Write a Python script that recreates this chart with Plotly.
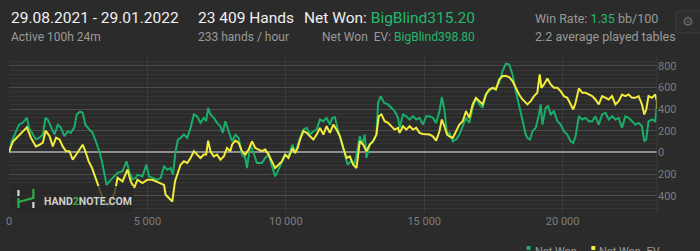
import plotly.graph_objects as go

# ---------------- data ----------------
won_hands = [0, 25, 83, 205, 360, 504, 647, 719, 863, 971, 1104, 1223, 1320, 1403, 1511, 1644, 1763, 1870,
             2004, 2122, 2230, 2363, 2446, 2565, 2662, 2759, 2903, 3021, 3140, 3262, 3356, 3442, 3525, 3622,
             3741, 3921, 4101, 4244, 4342, 4460, 4579, 4640, 4820, 4964, 5061, 5180, 5360, 5478, 5600, 5719,
             5838, 5924, 6018, 6104, 6198, 6320, 6439, 6557, 6680, 6798, 6917, 7039, 7122, 7194, 7277, 7399,
             7518, 7636, 7723, 7816, 7939, 8057, 8176, 8298, 8417, 8536, 8597, 8716, 8838, 8957, 9136, 9255,
             9377, 9496, 9615, 9737, 9856, 9975, 10097, 10241, 10334, 10431, 10514, 10636, 10755, 10874,
             10996, 11115, 11233, 11356, 11474, 11593, 11680, 11773, 11895, 12014, 12133, 12230, 12348,
             12471, 12554, 12672, 12759, 12852, 12913, 13032, 13154, 13273, 13334, 13428, 13550, 13694,
             13812, 13931, 14053, 14111, 14233, 14352, 14471, 14593, 14712, 14831, 14953, 15072, 15190,
             15313, 15431, 15550, 15636, 15730, 15827, 15910, 16032, 16151, 16270, 16392, 16511, 16629,
             16751, 16870, 16989, 17111, 17230, 17348, 17471, 17589, 17708, 17830, 17949, 18068, 18190,
             18309, 18427, 18550, 18668, 18730, 18823, 18909, 19028, 19147, 19208, 19269, 19388, 19471,
             19568, 19687, 19809, 19928, 20046, 20169, 20287, 20384, 20467, 20586, 20708, 20827, 20946,
             21068, 21187, 21305, 21428, 21546, 21665, 21787, 21906, 22025, 22147, 22266, 22384, 22507,
             22625, 22744, 22866, 22949, 23021, 23103, 23226, 23345, 23406, 23409]
won_values = [0, 0, 90, 160, 255, 275, 320, 230, 165, 118, 135, 165, 320, 300, 240, 165, 255, 230,
              150, 195, 180, 230, 350, 375, 365, 255, 210, 180, 100, 10, -83, -206, -300, -270,
              -235, -190, -175, -83, -175, -250, -235, -206, -222, -114, -222, -237, -253, -237, -130, -160,
              -145, -206, 10, 118, 133, 165, 133, 226, 350, 333, 272, 318, 287, 411, 350, 318,
              272, 241, 180, 287, 195, 102, 164, 133, -21, -52, -145, 71, -6, -98, -98, -52,
              -21, -114, -222, -160, -83, -21, -37, 71, -6, 71, 133, 210, 226, 164,
              195, 210, 303, 287, 318, 256, 318, 325, 195, 102, -21, -114, -83,
              -114, -21, 148, 71, 164, -52, 71, 102, 164, 457, 519, 457, 442,
              411, 380, 318, 226, 350, 333, 303, 333, 303, 318, 256, 333, 333,
              318, 272, 380, 510, 395, 164, 180, 102, 118, 164, 241, 318, 272,
              411, 503, 442, 411, 534, 565, 596, 596, 642, 750, 818, 812, 719,
              565, 442, 303, 164, 133, 118, 195, 226, 350, 442, 256, 411, 426,
              350, 380, 287, 256, 195, 164, 102, 87, 148, 333, 303, 318, 287,
              287, 333, 256, 350, 365, 303, 333, 303, 318, 226, 333, 318, 287,
              256, 272, 241, 102, 118, 287, 303, 287, 442, 315]

ev_hands = [0, 25, 144, 324, 504, 647, 791, 971, 1104, 1223, 1320, 1464, 1583, 1701, 1824, 1942, 2061,
            2183, 2302, 2421, 2543, 2662, 2759, 2878, 2996, 3083, 3165, 3262, 3381, 3489, 3597, 3741,
            3813, 3921, 4101, 4280, 4399, 4521, 4640, 4820, 5000, 5180, 5421, 5600, 5658, 5780, 5899,
            5996, 6079, 6198, 6320, 6439, 6557, 6680, 6798, 6917, 7039, 7122, 7194, 7277, 7399, 7518,
            7636, 7759, 7877, 7996, 8057, 8176, 8298, 8417, 8536, 8658, 8777, 8895, 9018, 9136, 9255,
            9377, 9496, 9615, 9737, 9856, 9975, 10097, 10241, 10334, 10431, 10514, 10636, 10755, 10874,
            10996, 11115, 11233, 11356, 11474, 11593, 11716, 11834, 11953, 12075, 12194, 12312, 12435,
            12554, 12672, 12795, 12913, 13032, 13154, 13273, 13356, 13453, 13572, 13694, 13812, 13931,
            14053, 14111, 14233, 14352, 14471, 14593, 14712, 14831, 14953, 15072, 15190, 15313, 15431,
            15550, 15636, 15730, 15827, 15910, 16032, 16151, 16270, 16392, 16511, 16629, 16751, 16870,
            16989, 17111, 17230, 17348, 17471, 17589, 17708, 17830, 17949, 18068, 18190, 18309, 18427,
            18550, 18730, 18847, 18966, 19086, 19172, 19233, 19327, 19449, 19568, 19687, 19809, 19928,
            20046, 20169, 20287, 20384, 20467, 20586, 20708, 20827, 20946, 21068, 21187, 21305, 21428,
            21546, 21665, 21787, 21906, 22025, 22147, 22266, 22384, 22507, 22625, 22744, 22866, 22949,
            23021, 23103, 23226, 23345, 23406, 23409]
ev_values = [0, 25, 100, 150, 195, 230, 135, 55, 70, 90, 200, 150, 55, 135, 118, 55, 10,
             10, -68, -21, 25, 70, 10, -83, -142, -206, -268, -327, -420, -470, -485, -420,
             -380, -235, -268, -160, -268, -327, -253, -283, -253, -253, -283, -300, -392, -422, -454,
             -268, -206, -114, -83, -98, -52, 10, -21, -52, -21, -21, 108, 10, -37, -21,
             -68, -37, 40, 10, 71, 108, 87, 10, -21, 25, 102, 40, 25, 10, 25,
             -21, -83, -145, -114, -83, -21, -52, 40, -6, 40, 118, 195, 180, 148,
             118, 164, 226, 164, 241, 180, 256, 210, 148, 40, -52, -37, -114,
             -145, 102, 71, 10, 71, 102, 164, 333, 350, 287, 272, 241, 210,
             226, 180, 241, 210, 241, 210, 226, 180, 170, 164, 164, 148, 108,
             195, 303, 241, 164, 148, 133, 195, 256, 287, 380, 318, 442, 503,
             472, 442, 534, 580, 596, 580, 673, 704, 704, 694, 658, 596, 534,
             488, 442, 472, 519, 550, 719, 596, 627, 682, 627, 596, 596, 565,
             519, 503, 442, 395, 457, 590, 550, 550, 534, 519, 488, 442, 519,
             503, 488, 519, 442, 472, 534, 519, 534, 503, 503, 519, 442, 350,
             395, 519, 503, 534, 472, 399]

x_tick_vals = [0, 5000, 10000, 15000, 20000]
x_tick_text = ["0", "5 000", "10 000", "15 000", "20 000"]
y_tick_vals = [-400, -200, 0, 200, 400, 600, 800]
y_tick_text = ["400", "200", "0", "200", "400", "600", "800"]

GREEN = "#1aad6a"
YELLOW = "#f2ec3a"
BG = "#2b2b2b"

W, H = 700, 251
ML, MR, MT, MB = 6, 43, 57, 38
PW = W - ML - MR
PH = H - MT - MB


def px(x):
    return (x - ML) / PW


def py(y):
    return (H - MB - y) / PH


fig = go.Figure()
fig.add_trace(go.Scatter(x=won_hands, y=won_values, mode="lines", name="Net Won",
                         line=dict(color=GREEN, width=2), line_shape="linear"))
fig.add_trace(go.Scatter(x=ev_hands, y=ev_values, mode="lines", name="Net Won  EV",
                         line=dict(color=YELLOW, width=2)))

fig.update_layout(
    width=W, height=H,
    margin=dict(l=ML, r=MR, t=MT, b=MB),
    paper_bgcolor=BG, plot_bgcolor=BG,
    showlegend=False,
    font=dict(family="Roboto", color="#8a8a8a", size=11),
    xaxis=dict(range=[0, 23409], tickvals=x_tick_vals, ticktext=x_tick_text,
               showgrid=True, gridcolor="#3a3a3a", gridwidth=1, zeroline=False,
               showline=False, ticks="", tickfont=dict(color="#7c7c7c", size=11)),
    yaxis=dict(range=[-560, 880], side="right", tickvals=y_tick_vals, ticktext=y_tick_text,
               showgrid=True, gridcolor="#4c4c4c", gridwidth=1,
               zeroline=True, zerolinecolor="#8e8e8e", zerolinewidth=1.5,
               minor=dict(tickmode="linear", tick0=0, dtick=40, showgrid=True,
                          gridcolor="#353535", gridwidth=1),
               showline=False, ticks="", tickfont=dict(color="#7c7c7c", size=11)),
)

shapes = []
# plot right border
shapes.append(dict(type="line", xref="paper", yref="paper", x0=1, x1=1, y0=0, y1=py(57),
                   line=dict(color="#3a3a3a", width=1)))
# logo backdrop
shapes.append(dict(type="rect", xref="paper", yref="paper", x0=px(7), x1=px(131), y0=py(212), y1=py(186),
                   fillcolor="rgba(40,40,40,0.78)", line=dict(width=0), layer="above"))
# logo icon
for (x0, y0, x1, y1, c) in [(15.5, 190, 15.5, 196, "#d8d8d8"), (15.5, 198, 15.5, 208, "#2fae4a"),
                            (15.5, 202, 30.5, 198, "#2fae4a"), (30.5, 189, 30.5, 199, "#2fae4a"),
                            (30.5, 202, 30.5, 208, "#d8d8d8")]:
    shapes.append(dict(type="line", xref="paper", yref="paper", x0=px(x0), x1=px(x1), y0=py(y0), y1=py(y1),
                       line=dict(color=c, width=2.2), layer="above"))
# gear box
shapes.append(dict(type="rect", xref="paper", yref="paper", x0=px(676), x1=px(701), y0=py(33), y1=py(11),
                   fillcolor="#2e2e2e", line=dict(color="#3c3c3c", width=1)))
# legend markers
shapes.append(dict(type="rect", xref="paper", yref="paper", x0=px(526), x1=px(530), y0=py(250), y1=py(246),
                   fillcolor=GREEN, line=dict(width=0)))
shapes.append(dict(type="rect", xref="paper", yref="paper", x0=px(591), x1=px(595), y0=py(250), y1=py(246),
                   fillcolor=YELLOW, line=dict(width=0)))
fig.update_layout(shapes=shapes)

GRN_TXT = "#22b96c"
ann = []


def A(x, y, text, size, color, xanchor="left"):
    ann.append(dict(x=px(x), y=py(y), xref="paper", yref="paper", text=text, showarrow=False,
                    xanchor=xanchor, yanchor="middle", font=dict(family="Roboto", size=size, color=color)))


A(6, 18, "29.08.2021 - 29.01.2022", 15.5, "#f0f0f0")
A(6, 37, "Active 100h 24m", 12, "#9a9a9a")
A(194, 18, "23 409 Hands", 15.5, "#f0f0f0")
A(194, 37, "233 hands / hour", 12, "#9a9a9a")
A(476, 18, "Net Won: <span style='color:%s'>BigBlind315.20</span>" % GRN_TXT, 15.5, "#f0f0f0", "right")
A(476, 37, "Net Won\u00a0\u00a0EV: <span style='color:%s'>BigBlind398.80</span>" % GRN_TXT, 12, "#9a9a9a", "right")
A(532, 18, "Win Rate: <span style='color:%s'>1.35</span> bb/100" % GRN_TXT, 12.5, "#9a9a9a")
A(532, 36, "2.2 average played tables", 12.5, "#9a9a9a")
A(688, 22, "\u2699", 13, "#6a6a6a", "center")
A(39, 201, "<b>HAND<span style='color:#2fae4a'>2</span>NOTE.COM</b>", 10.5, "#cfcfcf")
A(532, 251, "Net Won", 11, "#9a9a9a")
A(597, 251, "Net Won\u00a0\u00a0EV", 11, "#9a9a9a")
fig.update_layout(annotations=ann)

fig.write_html("out.html")
